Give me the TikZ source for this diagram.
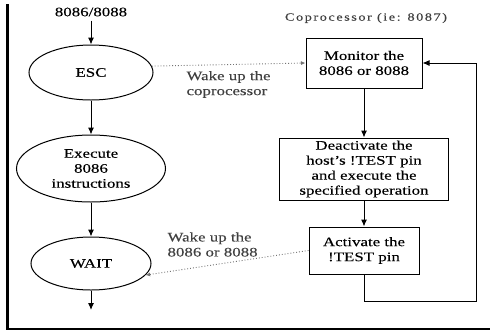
\documentclass[tikz,border=0pt]{standalone}
\usepackage{fontspec}
\setmainfont{Liberation Serif}[FakeStretch=1.3, FakeBold=0.2]
\usetikzlibrary{positioning,arrows.meta,shapes.geometric}

\begin{document}
\begin{tikzpicture}[
  x=1pt, y=-1pt,
  arrow/.style={-{Latex[length=7pt,width=6pt]}, line width=1pt},
  dotarrow/.style={-{Latex[length=4.5pt,width=4pt]}, dotted, line width=0.9pt, black!55},
  stepbox/.style={draw, line width=1pt, rectangle, align=center, inner sep=0pt},
  stepoval/.style={draw, line width=1pt, ellipse, align=center, inner sep=0pt},
  note/.style={align=left, text=black!75},
  every node/.style={font=\fontsize{13}{15}\selectfont}
]
\useasboundingbox (0,0) rectangle (490,330);

%% ── Column x-positions ───────────────────────────────────────────────
\def\xL{91}     % host CPU
\def\xR{364}    % coprocessor

%% ── Frame ────────────────────────────────────────────────────────────
\draw[line width=3pt] (7.5,4) -- (7.5,329.5);
\draw[line width=2pt] (6,328.5) -- (490,328.5);

%% ── Host column ──────────────────────────────────────────────────────
\node[inner sep=4pt] (host) at (\xL, 12) {8086/8088};
\node[stepoval, minimum width=124pt, minimum height=55pt] (esc) at (\xL, 72.5) {ESC};
\node[stepoval, minimum width=149pt, minimum height=67pt] (exe) at (\xL, 168.5)
    {Execute\\8086\\instructions};
\node[stepoval, minimum width=120pt, minimum height=53pt] (wait) at (\xL, 263.5) {WAIT};
\coordinate (waitout) at (\xL, 310);

\draw[arrow] (host) -- (esc);
\draw[arrow] (esc) -- (exe);
\draw[arrow] (exe) -- (wait);
\draw[arrow] (wait) -- (waitout);

%% ── Coprocessor column ───────────────────────────────────────────────
\node[font=\fontsize{11}{13}\selectfont\addfontfeatures{LetterSpace=14}, text=black!75]
    (coplbl) at (366, 18) {Coprocessor (ie: 8087)};
\node[stepbox, minimum width=116pt, minimum height=50pt] (mon) at (\xR, 63)
    {Monitor the\\8086 or 8088};
\node[stepbox, minimum width=169pt, minimum height=62pt] (deact) at (\xR, 169)
    {Deactivate the\\host's !TEST pin\\and execute the\\specified operation};
\node[stepbox, minimum width=110pt, minimum height=47pt] (act) at (\xR, 250.5)
    {Activate the\\!TEST pin};

\draw[arrow] (mon) -- (deact);
\draw[arrow] (deact) -- (act);

%% ── Loop back to monitoring ──────────────────────────────────────────
\coordinate (loopturn) at (476, 301);
\draw[arrow] (act.south) |- (loopturn) |- (mon.east);

%% ── Wake-up signals ──────────────────────────────────────────────────
\draw[dotarrow] (esc.6) -- (mon.west);
\node[note, anchor=west] (wakecop) at (183, 84.5) {Wake up the\\coprocessor};

\draw[dotarrow] (act.west) -- (wait.-12);
\node[note, anchor=west] (wakehost) at (164, 244.5) {Wake up the\\8086 or 8088};

\end{tikzpicture}
\end{document}
